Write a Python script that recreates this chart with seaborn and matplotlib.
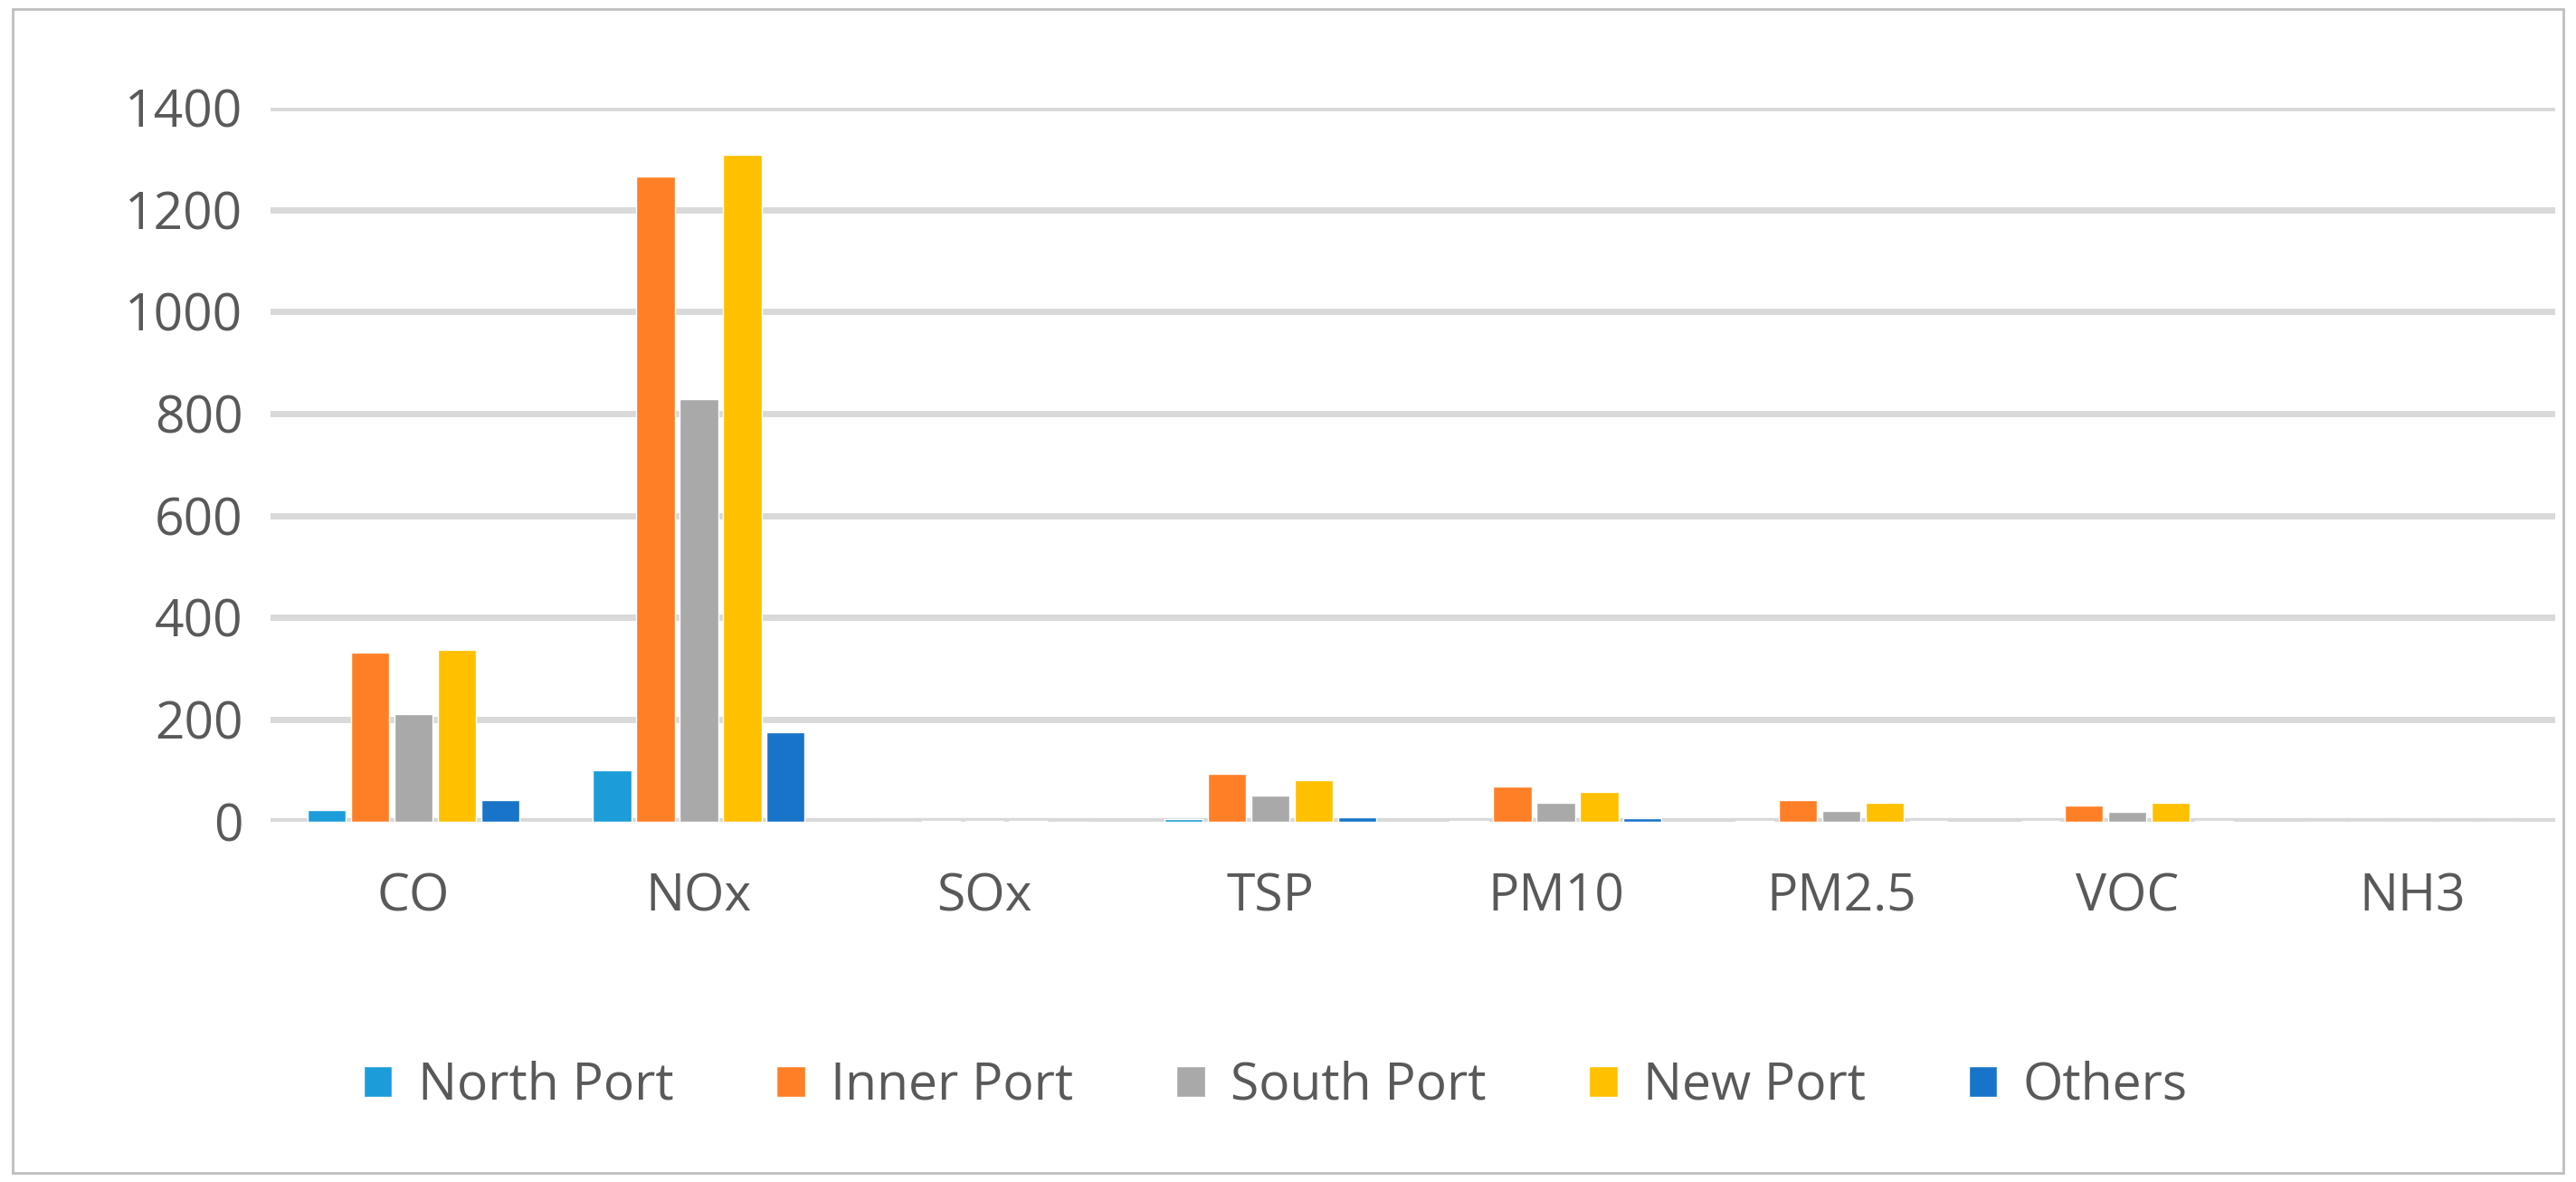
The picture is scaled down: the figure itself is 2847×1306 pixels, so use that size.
import pandas as pd
import matplotlib.pyplot as plt
import seaborn as sns
from matplotlib.patches import Rectangle

pollutants = ["CO", "NOx", "SOx", "TSP", "PM10", "PM2.5", "VOC", "NH3"]
north_port = [22, 100, 0.3, 4, 1, 0.5, 0.5, 0]
inner_port = [331, 1265, 0.5, 94, 68, 42, 32, 0]
south_port = [211, 828, 0.4, 51, 36, 21, 19, 0]
new_port = [336, 1308, 0.5, 81, 58, 36, 36, 0]
others = [42, 175, 0.2, 9, 6, 2, 1, 0]

ports = ["North Port", "Inner Port", "South Port", "New Port", "Others"]
colors = ["#1C9DD9", "#FF7F27", "#A9A9A9", "#FFC000", "#1874C9"]

rows = []
for port, vals in zip(ports, [north_port, inner_port, south_port, new_port, others]):
    for p, v in zip(pollutants, vals):
        rows.append({"pollutant": p, "port": port, "value": v})
df = pd.DataFrame(rows)

sns.set_style("white")
plt.rcParams['font.family'] = ['Open Sans', 'DejaVu Sans']

fig = plt.figure(figsize=(28.47, 13.06), dpi=100)
ax = fig.add_axes([0.105, 0.305, 0.887, 0.604])

sns.barplot(data=df, x="pollutant", y="value", hue="port", hue_order=ports,
            palette=colors, width=0.76, gap=0.12, saturation=1, ax=ax)

ax.set_ylim(0, 1400)
ax.set_yticks(range(0, 1401, 200))
ax.yaxis.grid(True, color="#D9D9D9", linewidth=5)
ax.set_axisbelow(True)
for s in ax.spines.values():
    s.set_visible(False)
ax.axhline(0, color="#D9D9D9", linewidth=6, zorder=0)
ax.set_xlabel("")
ax.set_ylabel("")
ax.tick_params(axis="y", labelsize=41, labelcolor="#595959", length=0, pad=22)
ax.tick_params(axis="x", labelsize=41, labelcolor="#595959", length=0, pad=40)

leg = ax.legend(loc="upper center", bbox_to_anchor=(0.44, -0.27), ncol=5, frameon=False,
                fontsize=41, handlelength=0.55, handleheight=0.55, columnspacing=2.0,
                handletextpad=0.5)
for t in leg.get_texts():
    t.set_color("#595959")

fig.patches.append(Rectangle((0.005, 0.008), 0.99, 0.984, transform=fig.transFigure,
                             fill=False, edgecolor="#BFBFBF", linewidth=2))

fig.savefig("out.png", dpi=100)
